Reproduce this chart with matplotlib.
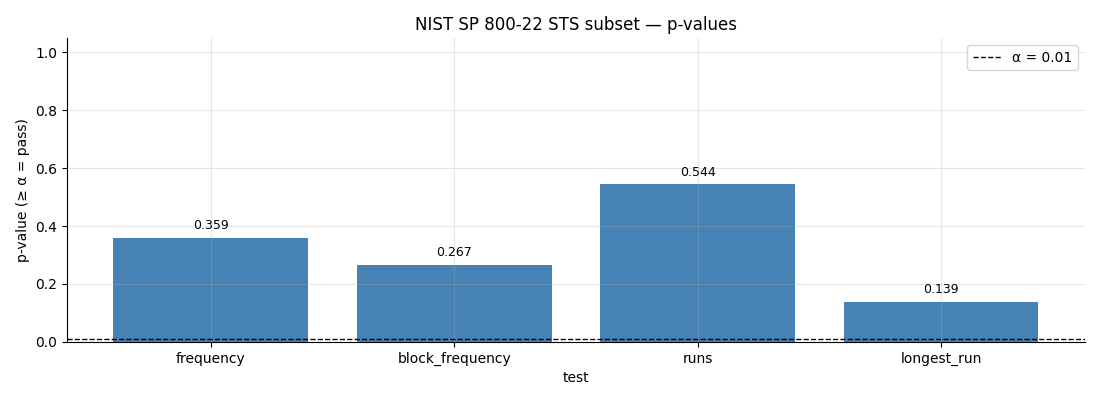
import matplotlib.pyplot as plt
import numpy as np

# datos del grafico
tests = ["frequency", "block_frequency", "runs", "longest_run"]
p_values = [0.359, 0.267, 0.544, 0.139]
alpha = 0.01


def grafico():
    fig, ax = plt.subplots(figsize=(11, 4), dpi=100)

    x = np.arange(len(tests))
    ax.bar(x, p_values, width=0.8, color="steelblue")

    # linea del umbral alpha
    ax.axhline(alpha, color="black", linestyle="--", linewidth=1, label="α = 0.01")

    # etiquetas con el valor sobre cada barra
    for xi, v in zip(x, p_values):
        ax.text(xi, v + 0.02, f"{v:.3f}", ha="center", va="bottom", fontsize=9)

    ax.set_xticks(x)
    ax.set_xticklabels(tests)
    ax.set_ylim(0, 1.05)
    ax.set_xlabel("test")
    ax.set_ylabel("p-value (≥ α = pass)")
    ax.set_title("NIST SP 800-22 STS subset — p-values")
    ax.grid(True, alpha=0.3)
    ax.spines["top"].set_visible(False)
    ax.spines["right"].set_visible(False)
    ax.legend(loc="upper right")

    fig.subplots_adjust(left=0.061, right=0.986, top=0.905, bottom=0.1455)
    fig.savefig("out.png")


if __name__ == '__main__':
    grafico()
